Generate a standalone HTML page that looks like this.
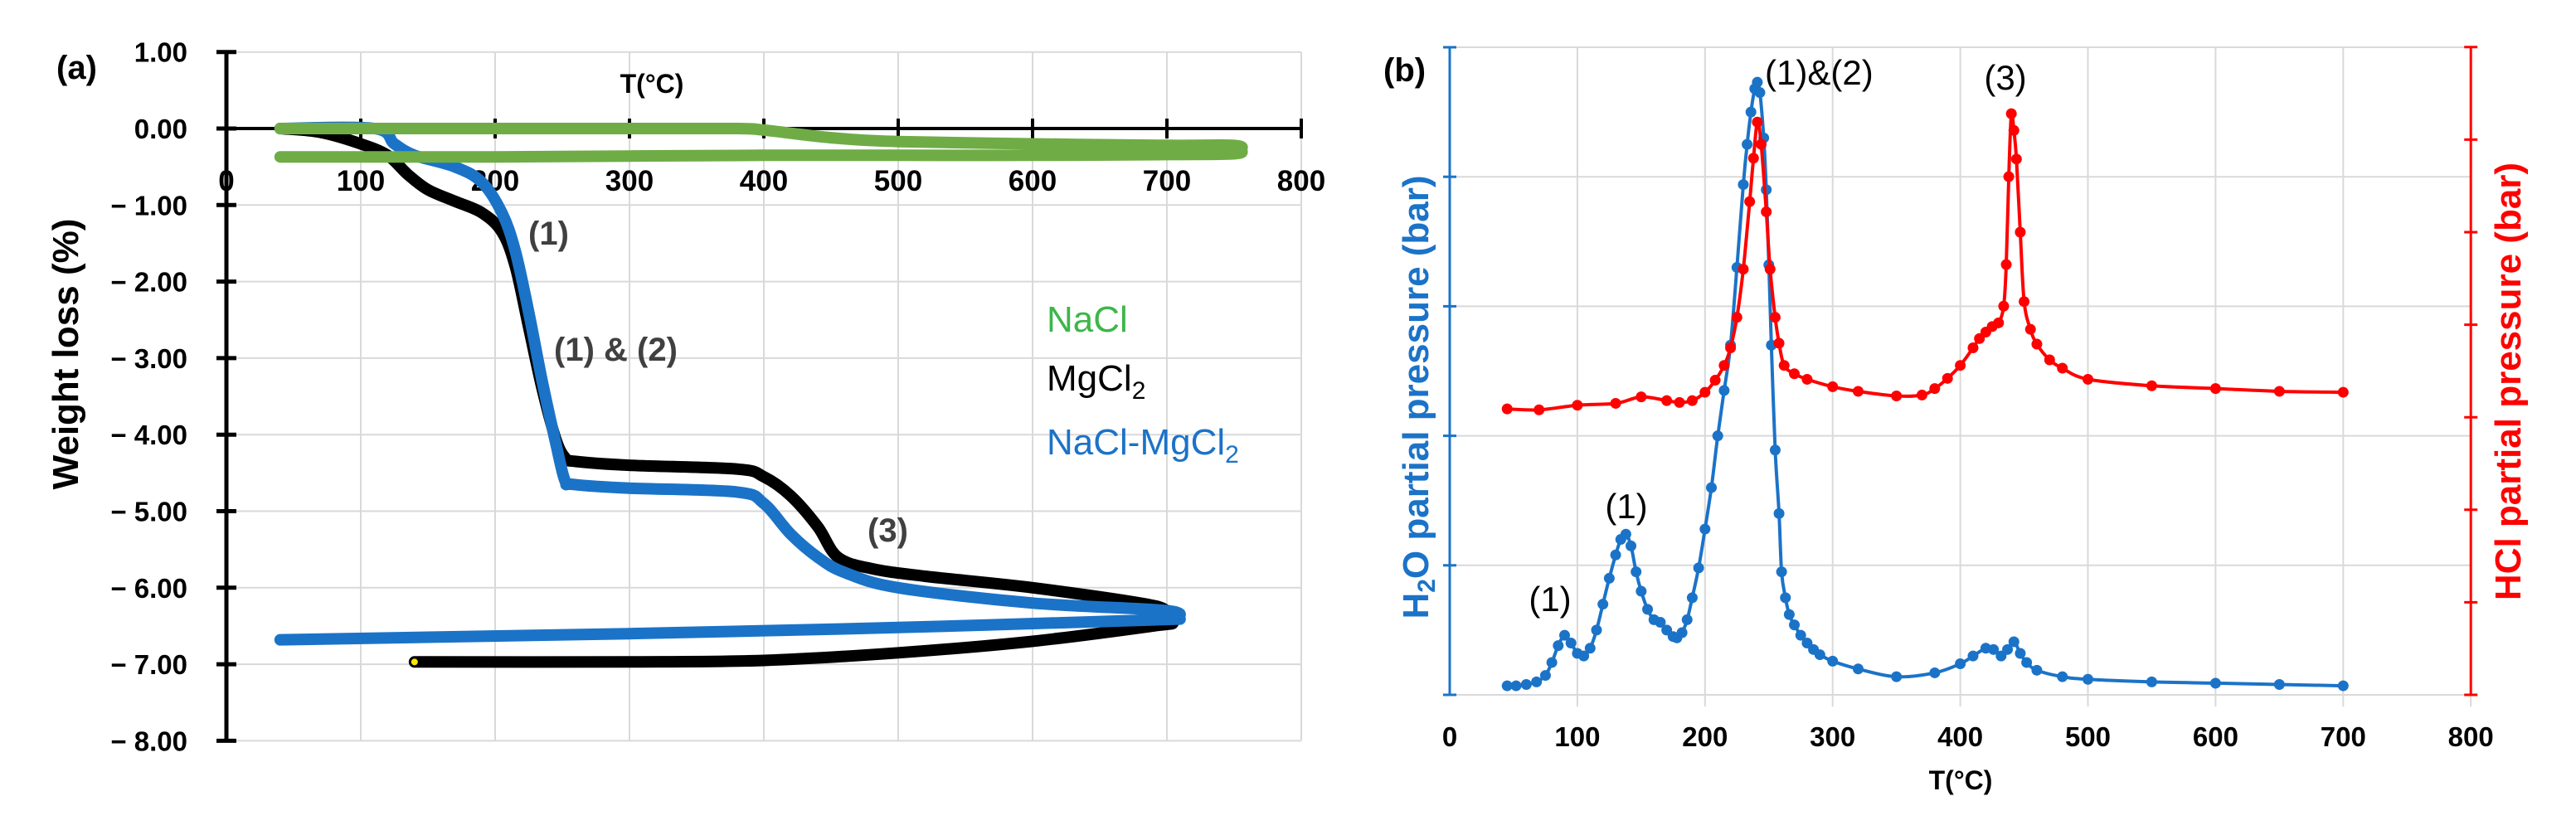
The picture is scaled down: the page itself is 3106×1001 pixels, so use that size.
<!DOCTYPE html>
<html><head><meta charset="utf-8"><style>
html,body{margin:0;padding:0;background:#fff;}
svg{display:block;font-family:"Liberation Sans",sans-serif;}
</style></head><body>
<svg id="c" width="3106" height="1001" viewBox="0 0 3106 1001" xmlns="http://www.w3.org/2000/svg"></svg>
<script>
// ---- Panel (a) data ----
const naclT = [40,100,200,300,380,400,450,500,600,700,750,755,750,700,600,500,400,300,200,100,40];
const naclW = [0,0,0,0,0,-0.02,-0.12,-0.17,-0.2,-0.22,-0.22,-0.28,-0.33,-0.34,-0.35,-0.35,-0.35,-0.36,-0.37,-0.37,-0.37];
const mgT = [40,70,100,120,135,150,170,190,205,215,225,235,245,252,260,300,380,400,420,440,455,480,520,600,680,700,705,690,600,500,400,300,140];
const mgW = [0,-0.05,-0.2,-0.35,-0.6,-0.8,-0.95,-1.1,-1.35,-1.8,-2.6,-3.4,-4.05,-4.3,-4.35,-4.4,-4.45,-4.55,-4.8,-5.2,-5.6,-5.75,-5.85,-6.0,-6.2,-6.3,-6.45,-6.5,-6.7,-6.85,-6.95,-6.97,-6.97];
const mixT = [40,110,125,140,170,190,205,215,225,235,245,252,258,300,380,400,420,440,460,500,600,700,705,690,500,300,40];
const mixW = [0,0,-0.2,-0.35,-0.5,-0.7,-1.1,-1.6,-2.4,-3.3,-4.1,-4.6,-4.65,-4.7,-4.75,-4.9,-5.3,-5.6,-5.8,-6.0,-6.2,-6.3,-6.4,-6.42,-6.52,-6.6,-6.68];
const aXTicks = [0,100,200,300,400,500,600,700,800];
const aYTicks = [1,0,-1,-2,-3,-4,-5,-6,-7,-8];
const aYLabels = ["1.00","0.00","\u2212 1.00","\u2212 2.00","\u2212 3.00","\u2212 4.00","\u2212 5.00","\u2212 6.00","\u2212 7.00","\u2212 8.00"];
// ---- Panel (b) data ----
const h2oT = [45,52,60,68,75,80,85,90,95,100,105,110,115,120,125,130,134,138,142,146,150,155,160,165,170,175,178,182,186,190,195,200,205,210,215,220,225,230,233,236,239,241,243,246,248,250,252,255,258,260,263,266,270,275,280,285,290,300,320,350,380,400,410,420,426,432,437,442,447,452,460,480,500,550,600,650,700];
const h2oP = [0.07,0.07,0.08,0.1,0.15,0.25,0.38,0.46,0.4,0.32,0.3,0.36,0.5,0.7,0.9,1.08,1.2,1.24,1.15,0.95,0.8,0.66,0.58,0.56,0.5,0.45,0.44,0.48,0.58,0.75,0.98,1.28,1.6,2.0,2.35,2.7,3.3,3.94,4.25,4.5,4.68,4.73,4.65,4.3,3.9,3.32,2.7,1.89,1.4,0.95,0.75,0.62,0.54,0.46,0.4,0.35,0.31,0.26,0.2,0.14,0.17,0.24,0.3,0.36,0.35,0.3,0.35,0.41,0.32,0.25,0.19,0.14,0.12,0.1,0.09,0.08,0.07];
const hclT = [45,70,100,130,150,170,180,190,200,208,215,220,225,230,235,238,241,244,248,251,255,258,262,270,280,300,320,350,370,380,390,400,410,415,420,425,430,434,436,438,440,442,444,447,450,455,460,470,480,500,550,600,650,700];
const hclP = [3.09,3.08,3.13,3.15,3.22,3.18,3.16,3.18,3.27,3.4,3.56,3.75,4.08,4.6,5.33,5.8,6.19,5.95,5.22,4.6,4.08,3.8,3.56,3.47,3.41,3.33,3.28,3.23,3.24,3.31,3.42,3.56,3.75,3.85,3.92,3.98,4.02,4.2,4.65,5.6,6.28,6.1,5.79,5.0,4.25,3.95,3.79,3.62,3.53,3.41,3.34,3.31,3.28,3.27];
const bXTicks = [0,100,200,300,400,500,600,700,800];
const bLeftTicks = [0,1,2,3,4,5];
const bRightTicks = [0,1,2,3,4,5,6,7];

const NS="http://www.w3.org/2000/svg";
const svg=document.getElementById('c');
function mk(tag,attrs,parent){const e=document.createElementNS(NS,tag);for(const k in attrs)e.setAttribute(k,attrs[k]);(parent||svg).appendChild(e);return e;}
function txt(s,attrs){const e=mk('text',attrs);e.textContent=s;return e;}
function smooth(pts){
  let d='M'+pts[0][0].toFixed(1)+' '+pts[0][1].toFixed(1);
  for(let i=0;i<pts.length-1;i++){
    const p0=pts[Math.max(0,i-1)],p1=pts[i],p2=pts[i+1],p3=pts[Math.min(pts.length-1,i+2)];
    const c1x=p1[0]+(p2[0]-p0[0])/6,c1y=p1[1]+(p2[1]-p0[1])/6;
    const c2x=p2[0]-(p3[0]-p1[0])/6,c2y=p2[1]-(p3[1]-p1[1])/6;
    d+=` C${c1x.toFixed(1)} ${c1y.toFixed(1)} ${c2x.toFixed(1)} ${c2y.toFixed(1)} ${p2[0].toFixed(1)} ${p2[1].toFixed(1)}`;
  }
  return d;
}

const ax=t=>273+t*1.62, ay=v=>155-v*92.3;
const bx=t=>1748+t*1.539, byL=v=>838-v*156.2, byR=v=>838-v*111.6;

// ===== Panel a =====
for(const t of aXTicks){ if(t===0)continue;
  const g=mk('line',{x1:ax(t),x2:ax(t),y1:ay(1),y2:ay(-8),stroke:'#d9d9d9','stroke-width':2});
   }
aYTicks.forEach((v,i)=>{
  const g=mk('line',{x1:ax(0),x2:ax(800),y1:ay(v),y2:ay(v),stroke:'#d9d9d9','stroke-width':2});
   
  const tk=mk('line',{x1:ax(0)-12,x2:ax(0)+12,y1:ay(v),y2:ay(v),stroke:'#000','stroke-width':5});
   
  const l=txt(aYLabels[i],{x:226,y:ay(v)+12,'text-anchor':'end','font-size':33,'font-weight':'bold'});
   
});
let e=mk('line',{x1:ax(0),x2:ax(0),y1:ay(1),y2:ay(-8),stroke:'#000','stroke-width':5});
 
e=mk('line',{x1:ax(0),x2:ax(800),y1:ay(0),y2:ay(0),stroke:'#000','stroke-width':4});
 
for(const t of aXTicks){
  const tk=mk('line',{x1:ax(t),x2:ax(t),y1:ay(0)-12,y2:ay(0)+12,stroke:'#000','stroke-width':4});
   
  const l=txt(String(t),{x:ax(t),y:230,'text-anchor':'middle','font-size':35,'font-weight':'bold'});
   
}
function pathA(T,W,col,name){
  const d=smooth(T.map((t,i)=>[ax(t),ay(W[i])]));
  const p=mk('path',{d,fill:'none',stroke:col,'stroke-width':14,'stroke-linecap':'round','stroke-linejoin':'round'});
   
}
pathA(mgT,mgW,'#000','mgcl2-curve');
pathA(mixT,mixW,'#1b73c8','nacl-mgcl2-curve');
pathA(naclT,naclW,'#6fac46','nacl-curve');
e=mk('circle',{cx:ax(mgT[mgT.length-1]),cy:ay(mgW[mgW.length-1]),r:4,fill:'#ffe600'});
 

e=txt('(a)',{x:68,y:95,'font-size':40,'font-weight':'bold'});  
e=txt('T(°C)',{x:786,y:112,'text-anchor':'middle','font-size':32,'font-weight':'bold'});  
e=txt('Weight loss (%)',{x:0,y:0,'text-anchor':'middle','font-size':44,'font-weight':'bold',transform:'translate(94,427) rotate(-90)'});  
e=txt('(1)',{x:637,y:295,'font-size':40,fill:'#404040','font-weight':'bold'});  
e=txt('(1) & (2)',{x:668,y:435,'font-size':40,fill:'#404040','font-weight':'bold'});  
e=txt('(3)',{x:1046,y:653,'font-size':40,fill:'#404040','font-weight':'bold'});  
e=txt('NaCl',{x:1262,y:400,'font-size':44,fill:'#3db64a'});  
e=mk('text',{x:1262,y:471,'font-size':44,fill:'#000'}); e.innerHTML='MgCl<tspan font-size="30" dy="10">2</tspan>';  
e=mk('text',{x:1262,y:548,'font-size':44,fill:'#1b73c8'}); e.innerHTML='NaCl-MgCl<tspan font-size="30" dy="10">2</tspan>';  

// ===== Panel b =====
for(const t of bXTicks){ if(t===0)continue;
  const g=mk('line',{x1:bx(t),x2:bx(t),y1:byL(5),y2:byL(0)+14,stroke:'#d9d9d9','stroke-width':2});
   }
for(const v of bLeftTicks){
  const g=mk('line',{x1:bx(0),x2:bx(800),y1:byL(v),y2:byL(v),stroke:'#d9d9d9','stroke-width':2});
   
  const tk=mk('line',{x1:bx(0)-8,x2:bx(0)+8,y1:byL(v),y2:byL(v),stroke:'#1b73c8','stroke-width':3});
   
}
for(const v of bRightTicks){
  const tk=mk('line',{x1:bx(800)-8,x2:bx(800)+8,y1:byR(v),y2:byR(v),stroke:'#ff0000','stroke-width':3});
   
}
e=mk('line',{x1:bx(0),x2:bx(0),y1:byL(5),y2:byL(0),stroke:'#1b73c8','stroke-width':3});  
e=mk('line',{x1:bx(800),x2:bx(800),y1:byR(7),y2:byR(0),stroke:'#ff0000','stroke-width':3});  
for(const t of bXTicks){
  const l=txt(String(t),{x:bx(t),y:900,'text-anchor':'middle','font-size':33,'font-weight':'bold'});
   
}
function seriesB(T,P,yf,col,name){
  const d=smooth(T.map((t,i)=>[bx(t),yf(P[i])]));
  const p=mk('path',{d,fill:'none',stroke:col,'stroke-width':4,'stroke-linejoin':'round','stroke-linecap':'round'});
   
  T.forEach((t,i)=>{const c=mk('circle',{cx:bx(t),cy:yf(P[i]),r:6.5,fill:col});
     });
}
seriesB(h2oT,h2oP,byL,'#1b73c8','h2o');
seriesB(hclT,hclP,byR,'#ff0000','hcl');

e=txt('(b)',{x:1668,y:98,'font-size':40,'font-weight':'bold'});  
e=txt('T(°C)',{x:2364,y:952,'text-anchor':'middle','font-size':32,'font-weight':'bold'});  
e=mk('text',{x:0,y:0,'text-anchor':'middle','font-size':44,'font-weight':'bold',fill:'#1b73c8',transform:'translate(1722,479) rotate(-90)'}); e.innerHTML='H<tspan font-size="30" dy="8">2</tspan><tspan dy="-8">O partial pressure (bar)</tspan>';  
e=txt('HCl partial pressure (bar)',{x:0,y:0,'text-anchor':'middle','font-size':44,'font-weight':'bold',fill:'#ff0000',transform:'translate(3039,460) rotate(-90)'});  
e=txt('(1)',{x:1869,y:737,'text-anchor':'middle','font-size':42});  
e=txt('(1)',{x:1961,y:625,'text-anchor':'middle','font-size':42});  
e=txt('(1)&(2)',{x:2128,y:102,'font-size':42});  
e=txt('(3)',{x:2418,y:108,'text-anchor':'middle','font-size':42});  
</script>
</body></html>
